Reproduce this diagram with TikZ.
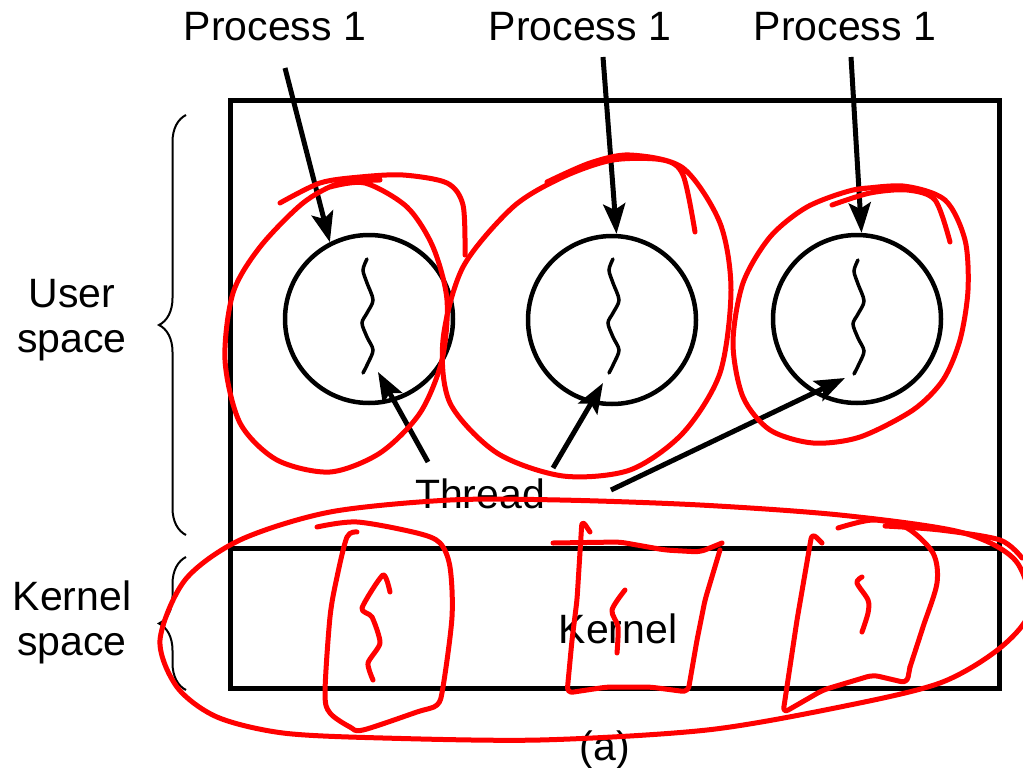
\documentclass[tikz,border=0pt]{standalone}
\usepackage{fontspec}
\setmainfont{Liberation Sans}
\usetikzlibrary{arrows.meta,decorations.pathreplacing}
\begin{document}
\begin{tikzpicture}[x=1pt,y=-1pt,
  lbl/.style={font=\fontsize{41}{45}\selectfont, inner sep=0pt},
  box/.style={draw, line width=5pt},
  proc/.style={circle, draw, line width=4.5pt, minimum size=168pt, inner sep=0pt},
  pointer/.style={line width=5pt, -{Stealth[length=30pt,width=22pt,inset=6pt]}},
  threadline/.style={line width=3.5pt, line cap=round},
  bracket/.style={line width=2pt, decorate, decoration={brace, amplitude=27pt}},
  redpen/.style={draw=red, line width=5pt, line cap=round, line join=round},
  threadwave/.pic={\draw[threadline] plot[smooth] coordinates
    {(0,0) (-4,11) (0,24) (6,41) (0,54) (-5,64) (0,78) (6,91) (1,104) (-4,114)};}]

\useasboundingbox[fill=white] (0,0) rectangle (1023,768);

% address space: user part above, kernel part below
\draw[box] (230,100) rectangle (999,688);
\draw[box] (230,548) -- (999,548);

% side labels with braces
\draw[bracket] (186,535) -- (186,115);
\draw[bracket] (186,690) -- (186,557);
\node[lbl, align=center] (us) at (72,320) {User\\space};
\node[lbl, align=center] (ks) at (72,622) {Kernel\\space};

% processes
\node[proc] (p1) at (369,319) {};
\node[proc] (p2) at (612,320) {};
\node[proc] (p3) at (857,319) {};

\node[lbl, anchor=base] (l1) at (275,41) {Process 1};
\node[lbl, anchor=base] (l2) at (580,41) {Process 1};
\node[lbl, anchor=base] (l3) at (845,41) {Process 1};

\coordinate (a1) at (285,68);
\coordinate (a2) at (603,57);
\coordinate (a3) at (851,57);
\draw[pointer] (a1) -- (p1.117);
\draw[pointer] (a2) -- (p2.87);
\draw[pointer] (a3) -- (p3.87);

% one thread per process
\pic at (367,259) {threadwave};
\pic at (613,259) {threadwave};
\pic at (858,260) {threadwave};
\coordinate (t1) at (378,372);
\coordinate (t2) at (603,383);
\coordinate (t3) at (845,378);

\node[lbl, anchor=base] (th) at (480,508) {Thread};
\coordinate (b1) at (428,462);
\coordinate (b2) at (553,468);
\coordinate (b3) at (611,490);
\draw[pointer] (b1) -- (t1);
\draw[pointer] (b2) -- (t2);
\draw[pointer] (b3) -- (t3);

\node[lbl, anchor=base] (kern) at (618,643) {Kernel};
\node[lbl, anchor=base] (cap) at (605,760) {(a)};

% hand-drawn marks
\draw[redpen] plot[smooth] coordinates
  {(280,203) (320,183) (360,177) (403,175) (447,183) (463,205) (465,255)};
\draw[redpen] plot[smooth] coordinates
  {(330,187) (365,183) (407,207) (433,247) (447,300) (442,360) (420,413)
   (380,453) (330,472) (277,460) (240,423) (225,360) (233,293) (260,247)
   (303,203) (340,183) (380,180)};

\draw[redpen] plot[smooth] coordinates
  {(547,182) (590,163) (630,155) (683,168) (720,223) (731,290) (720,373)
   (683,433) (630,470) (563,476) (497,453) (450,403) (443,340) (463,267)
   (513,207) (563,177) (613,160) (663,160) (683,175) (695,232)};

\draw[redpen] plot[smooth] coordinates
  {(832,205) (870,193) (907,190) (935,200) (950,242)};
\draw[redpen] plot[smooth] coordinates
  {(853,190) (903,186) (945,200) (965,240) (968,290) (960,340) (943,380)
   (913,410) (860,437) (813,443) (770,430) (743,397) (733,343) (743,283)
   (770,237) (807,207) (853,190) (890,187)};

\draw[redpen] plot[smooth cycle] coordinates
  {(160,640) (185,580) (240,540) (330,512) (450,500) (560,500) (700,505)
   (840,515) (960,532) (1015,560) (1030,610) (1000,648) (940,683) (840,707)
   (707,730) (540,740) (383,738) (283,733) (217,717) (177,687)};
\draw[redpen] plot[smooth] coordinates {(885,526) (940,530) (1000,540) (1022,558)};

\draw[redpen] plot[smooth, tension=0.5] coordinates
  {(317,527) (357,522) (417,533) (440,543) (450,567) (452,617) (443,687)
   (437,705) (417,712) (363,730) (350,727) (330,713) (325,693) (330,617)
   (337,577) (347,537) (357,532)};
\draw[redpen] plot[smooth, tension=0.4] coordinates
  {(390,592) (383,575) (362,608) (372,617) (380,643) (368,663) (373,680)};

\draw[redpen, rounded corners=6pt] (553,543) -- (620,542) -- (665,550)
  -- (700,552) -- (722,543);
\draw[redpen, rounded corners=6pt] (720,550) -- (705,600) -- (697,640)
  -- (688,692) -- (650,687) -- (607,687) -- (567,693) -- (572,640)
  -- (577,600) -- (582,520) -- (590,532);
\draw[redpen] plot[smooth] coordinates {(625,590) (612,610) (618,627) (617,653)};

\draw[redpen, rounded corners=6pt] (822,543) -- (812,533) -- (797,620)
  -- (783,713) -- (823,690) -- (873,675) -- (907,683) -- (910,667);
\draw[redpen] plot[smooth] coordinates
  {(910,667) (923,627) (937,583) (933,553) (907,528) (873,520) (838,528)};
\draw[redpen] plot[smooth] coordinates {(862,577) (857,583) (868,600) (868,613) (862,632)};
\end{tikzpicture}
\end{document}
